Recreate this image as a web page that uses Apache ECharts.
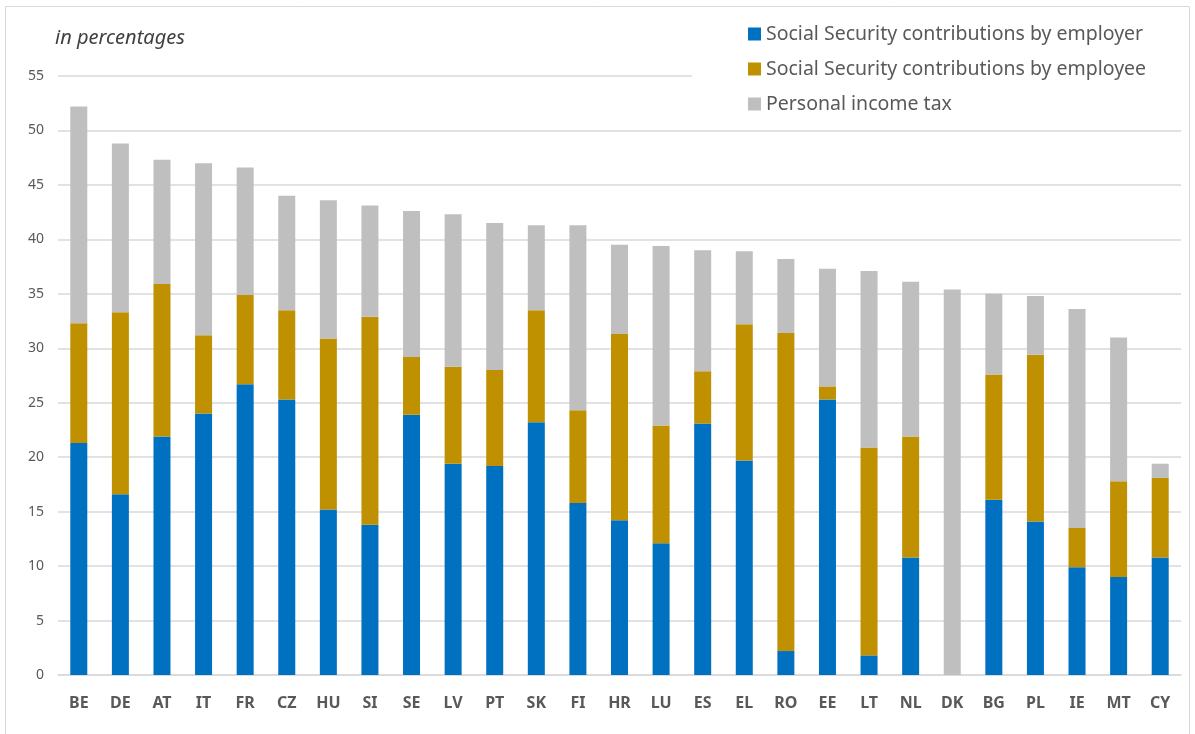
<!DOCTYPE html>
<html>
<head>
<meta charset="utf-8">
<script src="https://cdn.jsdelivr.net/npm/echarts@6/dist/echarts.min.js"></script>
<style>
  html, body { margin: 0; padding: 0; background: #fff; }
  #chart { width: 1195px; height: 734px; }
</style>
</head>
<body>
<div id="chart"></div>
<script>
var countries = ['BE', 'DE', 'AT', 'IT', 'FR', 'CZ', 'HU', 'SI', 'SE', 'LV', 'PT', 'SK', 'FI', 'HR',
  'LU', 'ES', 'EL', 'RO', 'EE', 'LT', 'NL', 'DK', 'BG', 'PL', 'IE', 'MT', 'CY']
// values (percent of labour cost)
var employer = [21.3, 16.6, 21.9, 24.0, 26.7, 25.3, 15.2, 13.8, 23.9, 19.4, 19.2, 23.2, 15.8, 14.2,
  12.1, 23.1, 19.7, 2.2, 25.3, 1.8, 10.8, 0, 16.1, 14.1, 9.9, 9.0, 10.8]
var employee = [11.0, 16.7, 14.0, 7.2, 8.2, 8.2, 15.7, 19.1, 5.3, 8.9, 8.8, 10.3, 8.5, 17.1,
  10.8, 4.8, 12.5, 29.2, 1.2, 19.1, 11.1, 0, 11.5, 15.3, 3.6, 8.8, 7.3]
var incomeTax = [19.9, 15.5, 11.4, 15.8, 11.7, 10.5, 12.7, 10.2, 13.4, 14.0, 13.5, 7.8, 17.0, 8.2,
  16.5, 11.1, 6.7, 6.8, 10.8, 16.2, 14.2, 35.4, 7.4, 5.4, 20.1, 13.2, 1.3]
var yTicks = [0, 5, 10, 15, 20, 25, 30, 35, 40, 45, 50, 55]

var chart = echarts.init(document.getElementById('chart'))
var font = 'Noto Sans'
var barW = 17

var option = {
  animation: false,
  backgroundColor: '#fff',
  textStyle: { fontFamily: font },
  graphic: [
    {
      type: 'rect', z: -10, silent: true,
      shape: { x: 5.5, y: 6.5, width: 1184, height: 740 },
      style: { fill: 'none', stroke: '#d9d9d9', lineWidth: 1 }
    },
    {
      type: 'text', left: 55, top: 28,
      style: { text: 'in percentages', fill: '#404040', font: 'italic 20px "Noto Sans"' }
    }
  ],
  legend: {
    orient: 'vertical',
    left: 692,
    top: 15,
    padding: [7, 40, 8, 56],
    backgroundColor: '#fff',
    itemWidth: 13,
    itemHeight: 13,
    itemGap: 11,
    icon: 'rect',
    z: 10,
    textStyle: { fontSize: 19.5, color: '#595959', fontFamily: font, padding: [0, 0, 0, 0], lineHeight: 24 },
    data: ['Social Security contributions by employer', 'Social Security contributions by employee', 'Personal income tax']
  },
  grid: { left: 58, right: 14, top: 76, bottom: 59 },
  xAxis: {
    type: 'category',
    data: countries,
    axisLine: { lineStyle: { color: '#d9d9d9', width: 1.5 } },
    axisTick: { show: false },
    axisLabel: { color: '#595959', fontSize: 16, fontWeight: 'bold', margin: 20, interval: 0 }
  },
  yAxis: {
    type: 'value',
    min: yTicks[0],
    max: yTicks[yTicks.length - 1],
    interval: 5,
    axisLine: { show: false },
    axisTick: { show: false },
    axisLabel: { color: '#595959', fontSize: 14, margin: 14 },
    splitLine: { lineStyle: { color: '#d9d9d9', width: 1.5 } }
  },
  series: [
    {
      name: 'Social Security contributions by employer', type: 'bar', stack: 'all',
      barWidth: barW, itemStyle: { color: '#0070C0' }, data: employer
    },
    {
      name: 'Social Security contributions by employee', type: 'bar', stack: 'all',
      barWidth: barW, itemStyle: { color: '#BF9000' }, data: employee
    },
    {
      name: 'Personal income tax', type: 'bar', stack: 'all',
      barWidth: barW, itemStyle: { color: '#BFBFBF' }, data: incomeTax
    }
  ]
}
chart.setOption(option)
</script>
</body>
</html>
